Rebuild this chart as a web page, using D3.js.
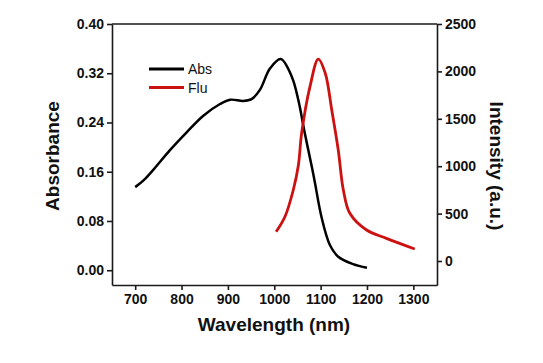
<!DOCTYPE html>
<html>
<head>
<meta charset="utf-8">
<script src="https://cdn.jsdelivr.net/npm/d3@7"></script>
<style>
  body { margin: 0; background: #fff; }
  svg { display: block; font-family: "Liberation Sans", Arial, sans-serif; }
  .axis path, .axis line { stroke: #1a1a1a; stroke-width: 1.6; }
  .axis text { font-size: 14px; font-weight: bold; fill: #111; }
  .title { font-size: 19px; font-weight: bold; fill: #111; }
</style>
</head>
<body>
<div id="chart"></div>
<script>
// Absorption spectrum (left axis)
const absWavelength = [700, 718, 739, 775, 811, 847, 883, 905, 933, 951, 969, 991, 1014, 1038, 1052, 1066, 1081, 1088, 1102, 1120, 1138, 1170, 1200];
const absValues     = [0.135, 0.146, 0.163, 0.195, 0.224, 0.251, 0.270, 0.277, 0.275, 0.278, 0.293, 0.328, 0.343, 0.314, 0.276, 0.222, 0.168, 0.141, 0.086, 0.041, 0.022, 0.010, 0.004];

// Fluorescence spectrum (right axis)
const fluWavelength = [1004, 1023, 1041, 1052, 1059, 1077, 1095, 1110, 1124, 1138, 1149, 1163, 1199, 1242, 1303];
const fluValues     = [309, 467, 749, 1010, 1347, 1839, 2130, 1980, 1593, 1171, 749, 503, 327, 239, 127];

const xTicks = [700, 800, 900, 1000, 1100, 1200, 1300];
const absTicks = [0, 0.08, 0.16, 0.24, 0.32, 0.40];
const fluTicks = [0, 500, 1000, 1500, 2000, 2500];

const legendItems = [
  { label: "Abs", color: "#000000" },
  { label: "Flu", color: "#cc1111" }
];

const width = 543, height = 363;
const margin = { top: 24, right: 106, bottom: 78, left: 112 };
const w = width - margin.left - margin.right;
const h = height - margin.top - margin.bottom;

const svg = d3.select("#chart").append("svg")
  .attr("width", width)
  .attr("height", height);

const g = svg.append("g")
  .attr("transform", `translate(${margin.left},${margin.top})`);

const x = d3.scaleLinear().domain([650, 1351]).range([0, w]);
const yAbs = d3.scaleLinear().domain([-0.024, 0.40]).range([h, 0]);
const yFlu = d3.scaleLinear().domain([-253, 2500]).range([h, 0]);

// axes
g.append("g").attr("class", "axis")
  .attr("transform", `translate(0,${h})`)
  .call(d3.axisBottom(x).tickValues(xTicks).tickFormat(d3.format("d")).tickSize(5).tickPadding(4).tickSizeOuter(0));

g.append("g").attr("class", "axis")
  .call(d3.axisLeft(yAbs).tickValues(absTicks).tickFormat(d3.format(".2f")).tickSize(5).tickPadding(3).tickSizeOuter(0));

g.append("g").attr("class", "axis")
  .attr("transform", `translate(${w},0)`)
  .call(d3.axisRight(yFlu).tickValues(fluTicks).tickFormat(d3.format("d")).tickSize(5).tickPadding(3).tickSizeOuter(0));

// top border
g.append("line")
  .attr("x1", 0).attr("x2", w).attr("y1", 0).attr("y2", 0)
  .attr("stroke", "#1a1a1a").attr("stroke-width", 1.6);

// curves
const absLine = d3.line()
  .x((d, i) => x(absWavelength[i]))
  .y(d => yAbs(d))
  .curve(d3.curveCatmullRom.alpha(0.5));

const fluLine = d3.line()
  .x((d, i) => x(fluWavelength[i]))
  .y(d => yFlu(d))
  .curve(d3.curveCatmullRom.alpha(0.5));

g.append("path")
  .attr("fill", "none")
  .attr("stroke", legendItems[0].color)
  .attr("stroke-width", 2.5)
  .attr("d", absLine(absValues));

g.append("path")
  .attr("fill", "none")
  .attr("stroke", legendItems[1].color)
  .attr("stroke-width", 2.8)
  .attr("d", fluLine(fluValues));

// legend
const legend = g.append("g").attr("transform", "translate(37,45)");
legendItems.forEach((item, i) => {
  const row = legend.append("g").attr("transform", `translate(0,${i * 18.5})`);
  row.append("line")
    .attr("x1", 0).attr("x2", 35)
    .attr("stroke", item.color)
    .attr("stroke-width", 3);
  row.append("text")
    .attr("x", 39).attr("y", 5)
    .style("font-size", "14px")
    .attr("fill", "#111")
    .text(item.label);
});

// titles
svg.append("text").attr("class", "title")
  .attr("text-anchor", "middle")
  .attr("transform", `translate(59,156) rotate(-90)`)
  .text("Absorbance");

svg.append("text").attr("class", "title")
  .attr("text-anchor", "middle")
  .attr("transform", `translate(490,166) rotate(90)`)
  .text("Intensity (a.u.)");

svg.append("text").attr("class", "title")
  .attr("text-anchor", "middle")
  .attr("x", 274).attr("y", 331)
  .text("Wavelength (nm)");
</script>
</body>
</html>
